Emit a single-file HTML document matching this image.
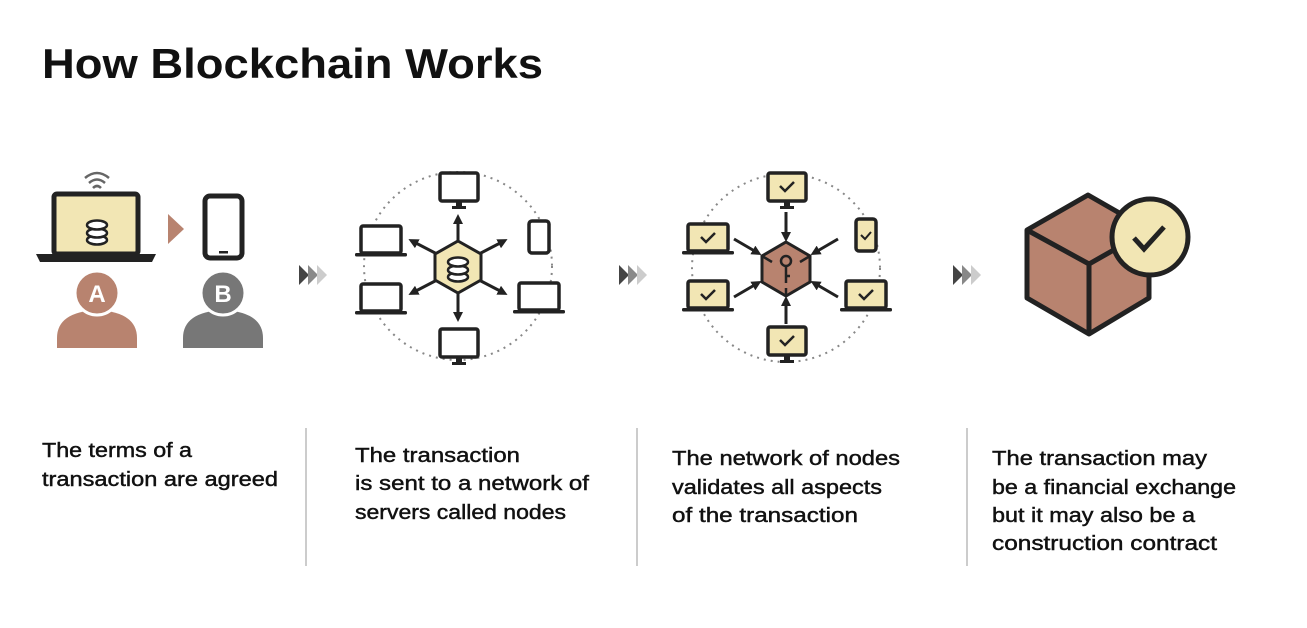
<!DOCTYPE html>
<html><head><meta charset="utf-8"><style>
body{margin:0;background:#fff;width:1307px;height:628px;overflow:hidden}
svg{display:block}
text{font-family:"Liberation Sans",sans-serif;fill:#111}
.d text{stroke:#111;stroke-width:0.45}
</style></head><body>
<svg width="1307" height="628" viewBox="0 0 1307 628">
<defs>
<g id="chev"><path d="M0,0 L10,10 L0,20Z" fill="#444"/><path d="M9,0 L19,10 L9,20Z" fill="#888"/><path d="M18,0 L28,10 L18,20Z" fill="#ccc"/></g>
<g id="lap"><rect x="-20" y="-14" width="40" height="27" rx="2" fill="#fff" stroke="#222" stroke-width="3.5"/><rect x="-26" y="13" width="52" height="3.5" rx="1.5" fill="#222"/></g>
<g id="lapy"><rect x="-20" y="-14" width="40" height="27" rx="2" fill="#f2e6b4" stroke="#222" stroke-width="3.5"/><rect x="-26" y="13" width="52" height="3.5" rx="1.5" fill="#222"/><path d="M-7,-1 L-2,4 L7,-5" fill="none" stroke="#222" stroke-width="2.5"/></g>
<g id="mon"><rect x="-19" y="-15" width="38" height="28" rx="2" fill="#fff" stroke="#222" stroke-width="3.5"/><rect x="-3" y="13" width="6" height="6" fill="#222"/><rect x="-7" y="18" width="14" height="3" fill="#222"/></g>
<g id="mony"><rect x="-19" y="-15" width="38" height="28" rx="2" fill="#f2e6b4" stroke="#222" stroke-width="3.5"/><rect x="-3" y="13" width="6" height="6" fill="#222"/><rect x="-7" y="18" width="14" height="3" fill="#222"/><path d="M-7,-2 L-2,3 L7,-6" fill="none" stroke="#222" stroke-width="2.5"/></g>
<marker id="ah" markerUnits="userSpaceOnUse" markerWidth="10" markerHeight="10" refX="6" refY="5" orient="auto"><path d="M0,0 L10,5 L0,10Z" fill="#222"/></marker>
</defs>

<text x="42" y="78" font-size="42" font-weight="bold" textLength="501" lengthAdjust="spacingAndGlyphs">How Blockchain Works</text>

<!-- Panel 1 -->
<g fill="none" stroke="#666" stroke-width="2.5">
<path d="M85,178 Q97,168 109,178"/><path d="M89,183 Q97,176 105,183"/><path d="M93,188 Q97,184 101,188"/>
</g>
<rect x="54" y="194" width="84" height="60" rx="3" fill="#f2e6b4" stroke="#222" stroke-width="5"/>
<path d="M36,254 L156,254 L152,262 L40,262Z" fill="#222"/>
<g fill="#fff" stroke="#222" stroke-width="2.5">
<ellipse cx="97" cy="240" rx="10" ry="4.5"/><ellipse cx="97" cy="233" rx="10" ry="4.5"/><ellipse cx="97" cy="225" rx="10" ry="4.5"/>
</g>
<path d="M168,214 L184,229 L168,244Z" fill="#b8836f"/>
<rect x="205" y="196" width="37" height="62" rx="5" fill="#fff" stroke="#222" stroke-width="5"/>
<rect x="219" y="251" width="9" height="2.5" fill="#222"/>
<path d="M57,348 L57,338 Q57,312 97,310 Q137,312 137,338 L137,348Z" fill="#b8836f"/>
<circle cx="97" cy="293" r="22" fill="#b8836f" stroke="#fff" stroke-width="3"/>
<text x="97" y="302" font-size="24" font-weight="bold" text-anchor="middle" style="fill:#fff">A</text>
<path d="M183,348 L183,338 Q183,312 223,310 Q263,312 263,338 L263,348Z" fill="#777"/>
<circle cx="223" cy="293" r="22" fill="#777" stroke="#fff" stroke-width="3"/>
<text x="223" y="302" font-size="24" font-weight="bold" text-anchor="middle" style="fill:#fff">B</text>

<use href="#chev" x="299" y="265"/>
<use href="#chev" x="619" y="265"/>
<use href="#chev" x="953" y="265"/>

<!-- Panel 2 -->
<circle cx="458" cy="266" r="94" fill="none" stroke="#888" stroke-width="2" stroke-dasharray="2 5"/>
<g stroke="#222" stroke-width="3" marker-end="url(#ah)">
<line x1="458" y1="240" x2="458" y2="218"/><line x1="458" y1="292" x2="458" y2="318"/>
<line x1="437" y1="254" x2="412" y2="241"/><line x1="479" y1="254" x2="504" y2="241"/>
<line x1="437" y1="280" x2="412" y2="293"/><line x1="479" y1="280" x2="504" y2="293"/>
</g>
<polygon points="458,241 481,254 481,280 458,293 435,280 435,254" fill="#f2e6b4" stroke="#222" stroke-width="3"/>
<g fill="#fff" stroke="#222" stroke-width="2.5">
<ellipse cx="458" cy="277" rx="10" ry="4.5"/><ellipse cx="458" cy="270" rx="10" ry="4.5"/><ellipse cx="458" cy="262" rx="10" ry="4.5"/>
</g>
<use href="#mon" x="459" y="188"/>
<use href="#mon" x="459" y="344"/>
<use href="#lap" x="381" y="240"/>
<use href="#lap" x="381" y="298"/>
<use href="#lap" x="539" y="297"/>
<rect x="529" y="221" width="20" height="32" rx="3" fill="#fff" stroke="#222" stroke-width="3.5"/>

<!-- Panel 3 -->
<circle cx="786" cy="268" r="94" fill="none" stroke="#888" stroke-width="2" stroke-dasharray="2 5"/>
<g stroke="#222" stroke-width="3" marker-end="url(#ah)">
<line x1="786" y1="212" x2="786" y2="238"/><line x1="786" y1="324" x2="786" y2="300"/>
<line x1="734" y1="239" x2="758" y2="253"/><line x1="838" y1="239" x2="814" y2="253"/>
<line x1="734" y1="297" x2="758" y2="283"/><line x1="838" y1="297" x2="814" y2="283"/>
</g>
<polygon points="786,242 810,256 810,282 786,296 762,282 762,256" fill="#b8836f" stroke="#222" stroke-width="3"/>
<g stroke="#222" stroke-width="2.5" fill="none"><circle cx="786" cy="261" r="5"/><path d="M786,266 L786,283 M786,276 L790,276"/><path d="M762,256 L772,262 M810,256 L800,262 M786,296 L786,288"/></g>
<use href="#mony" x="787" y="188"/>
<use href="#mony" x="787" y="342"/>
<use href="#lapy" x="708" y="238"/>
<use href="#lapy" x="708" y="295"/>
<use href="#lapy" x="866" y="295"/>
<rect x="856" y="219" width="20" height="32" rx="3" fill="#f2e6b4" stroke="#222" stroke-width="3.5"/>
<path d="M861,235 L865,239 L871,232" fill="none" stroke="#222" stroke-width="2"/>

<!-- Panel 4 -->
<polygon points="1088,195 1149,230 1149,298 1089,334 1027,298 1027,230" fill="#b8836f" stroke="#222" stroke-width="5" stroke-linejoin="round"/>
<path d="M1027,230 L1089,264 L1149,230 M1089,264 L1089,334" fill="none" stroke="#222" stroke-width="5"/>
<circle cx="1150" cy="237" r="38" fill="#f2e6b4" stroke="#222" stroke-width="5"/>
<path d="M1134,238 L1144,249 L1164,227" fill="none" stroke="#222" stroke-width="5"/>

<!-- dividers -->
<g stroke="#ccc" stroke-width="2"><line x1="306" y1="428" x2="306" y2="566"/><line x1="637" y1="428" x2="637" y2="566"/><line x1="967" y1="428" x2="967" y2="566"/></g>

<g class="d" font-size="20" lengthAdjust="spacingAndGlyphs">
<text x="42" y="457" textLength="150" lengthAdjust="spacingAndGlyphs">The terms of a</text>
<text x="42" y="486" textLength="236" lengthAdjust="spacingAndGlyphs">transaction are agreed</text>
<text x="355" y="462" textLength="165" lengthAdjust="spacingAndGlyphs">The transaction</text>
<text x="355" y="490" textLength="234" lengthAdjust="spacingAndGlyphs">is sent to a network of</text>
<text x="355" y="519" textLength="211" lengthAdjust="spacingAndGlyphs">servers called nodes</text>
<text x="672" y="465" textLength="228" lengthAdjust="spacingAndGlyphs">The network of nodes</text>
<text x="672" y="494" textLength="210" lengthAdjust="spacingAndGlyphs">validates all aspects</text>
<text x="672" y="522" textLength="186" lengthAdjust="spacingAndGlyphs">of the transaction</text>
<text x="992" y="465" textLength="215" lengthAdjust="spacingAndGlyphs">The transaction may</text>
<text x="992" y="494" textLength="244" lengthAdjust="spacingAndGlyphs">be a financial exchange</text>
<text x="992" y="522" textLength="203" lengthAdjust="spacingAndGlyphs">but it may also be a</text>
<text x="992" y="550" textLength="225" lengthAdjust="spacingAndGlyphs">construction contract</text>
</g>
</svg>
</body></html>
